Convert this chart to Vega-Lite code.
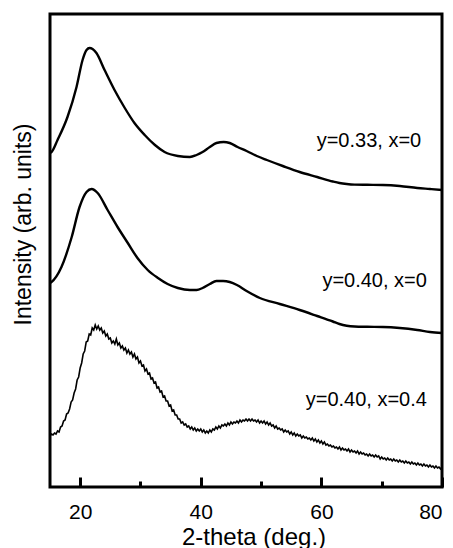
{
  "$schema": "https://vega.github.io/schema/vega-lite/v6.json",
  "width": 392,
  "height": 473,
  "autosize": {"type": "none"},
  "padding": {"left": 50, "top": 14, "right": 11, "bottom": 61},
  "background": "white",
  "config": {
    "font": "Liberation Sans",
    "view": {"stroke": "black", "strokeWidth": 3},
    "axis": {"grid": false, "domain": false, "tickColor": "black", "labelColor": "black", "titleColor": "black", "titleFont": "Liberation Sans", "labelFont": "Liberation Sans", "titleFontWeight": "normal"},
    "axisY": {"ticks": false, "labels": false}
  },
  "datasets": {
    "a": [
      {"t": 15, "i": 334}, {"t": 15.25, "i": 335}, {"t": 16.25, "i": 347}, {"t": 17.9, "i": 370},
      {"t": 19.4, "i": 400}, {"t": 20.4, "i": 427}, {"t": 21.06, "i": 437}, {"t": 21.56, "i": 439},
      {"t": 22.06, "i": 438}, {"t": 22.7, "i": 434}, {"t": 24.05, "i": 417}, {"t": 25.7, "i": 397},
      {"t": 27.4, "i": 379}, {"t": 29.0, "i": 364}, {"t": 30.7, "i": 352}, {"t": 32.4, "i": 342},
      {"t": 34.0, "i": 335}, {"t": 36.2, "i": 331}, {"t": 38.2, "i": 330}, {"t": 39.3, "i": 332},
      {"t": 40.3, "i": 335}, {"t": 41.5, "i": 340}, {"t": 42.6, "i": 344}, {"t": 43.8, "i": 345},
      {"t": 44.8, "i": 344}, {"t": 46.1, "i": 340}, {"t": 47.6, "i": 336}, {"t": 49.3, "i": 331},
      {"t": 50.96, "i": 327}, {"t": 53.6, "i": 321}, {"t": 56.4, "i": 315}, {"t": 59.3, "i": 310},
      {"t": 61.9, "i": 305.5}, {"t": 63.0, "i": 304}, {"t": 64.2, "i": 303}, {"t": 65.5, "i": 302.4},
      {"t": 67.6, "i": 302.2}, {"t": 70.2, "i": 302}, {"t": 73.0, "i": 301}, {"t": 75.9, "i": 299},
      {"t": 78.0, "i": 298}, {"t": 80.0, "i": 297}
    ],
    "b": [
      {"t": 15, "i": 204}, {"t": 15.25, "i": 205}, {"t": 16.9, "i": 220}, {"t": 18.6, "i": 250},
      {"t": 19.9, "i": 280}, {"t": 21.06, "i": 295}, {"t": 21.9, "i": 298}, {"t": 22.9, "i": 294},
      {"t": 24.55, "i": 277}, {"t": 26.2, "i": 260}, {"t": 27.9, "i": 244}, {"t": 29.5, "i": 229},
      {"t": 31.2, "i": 217}, {"t": 32.9, "i": 209}, {"t": 34.5, "i": 203}, {"t": 36.2, "i": 199},
      {"t": 38.2, "i": 197}, {"t": 39.3, "i": 197}, {"t": 40.3, "i": 199}, {"t": 41.5, "i": 203},
      {"t": 42.6, "i": 206}, {"t": 43.7, "i": 206}, {"t": 44.8, "i": 205}, {"t": 46.0, "i": 202},
      {"t": 47.6, "i": 196}, {"t": 49.8, "i": 189}, {"t": 53.1, "i": 183}, {"t": 56.4, "i": 177},
      {"t": 59.3, "i": 171}, {"t": 61.9, "i": 165.5}, {"t": 63.0, "i": 163}, {"t": 64.2, "i": 161.3},
      {"t": 65.5, "i": 160.5}, {"t": 67.6, "i": 160.2}, {"t": 70.2, "i": 160}, {"t": 73.0, "i": 159},
      {"t": 75.9, "i": 157}, {"t": 78.0, "i": 155}, {"t": 80.0, "i": 154}
    ],
    "c": [
      {"t": 15, "i": 51}, {"t": 15.25, "i": 53}, {"t": 15.5, "i": 52}, {"t": 15.75, "i": 54},
      {"t": 16, "i": 53}, {"t": 16.25, "i": 56}, {"t": 16.5, "i": 55}, {"t": 16.75, "i": 60},
      {"t": 17, "i": 61}, {"t": 17.25, "i": 66}, {"t": 17.5, "i": 67}, {"t": 17.75, "i": 73},
      {"t": 18, "i": 74}, {"t": 18.25, "i": 78}, {"t": 18.5, "i": 85}, {"t": 18.75, "i": 87},
      {"t": 19, "i": 94}, {"t": 19.25, "i": 98}, {"t": 19.5, "i": 107}, {"t": 19.75, "i": 110},
      {"t": 20, "i": 119}, {"t": 20.25, "i": 124}, {"t": 20.5, "i": 133}, {"t": 20.75, "i": 136},
      {"t": 21, "i": 145}, {"t": 21.25, "i": 146}, {"t": 21.5, "i": 153}, {"t": 21.75, "i": 152},
      {"t": 22, "i": 159}, {"t": 22.25, "i": 157}, {"t": 22.5, "i": 162}, {"t": 22.75, "i": 158},
      {"t": 23, "i": 161}, {"t": 23.25, "i": 157}, {"t": 23.5, "i": 159}, {"t": 23.75, "i": 154},
      {"t": 24, "i": 156}, {"t": 24.25, "i": 151}, {"t": 24.5, "i": 153}, {"t": 24.75, "i": 148},
      {"t": 25, "i": 149}, {"t": 25.25, "i": 144}, {"t": 25.5, "i": 146}, {"t": 25.75, "i": 143},
      {"t": 26, "i": 148}, {"t": 26.25, "i": 142}, {"t": 26.5, "i": 144}, {"t": 26.75, "i": 139},
      {"t": 27, "i": 141}, {"t": 27.25, "i": 137}, {"t": 27.5, "i": 139}, {"t": 27.75, "i": 134},
      {"t": 28, "i": 137}, {"t": 28.25, "i": 133}, {"t": 28.5, "i": 135}, {"t": 28.75, "i": 130},
      {"t": 29, "i": 133}, {"t": 29.25, "i": 128}, {"t": 29.5, "i": 130}, {"t": 29.75, "i": 124},
      {"t": 30, "i": 126}, {"t": 30.25, "i": 121}, {"t": 30.5, "i": 122}, {"t": 30.75, "i": 116},
      {"t": 31, "i": 118}, {"t": 31.25, "i": 113}, {"t": 31.5, "i": 114}, {"t": 31.75, "i": 108},
      {"t": 32, "i": 109}, {"t": 32.25, "i": 104}, {"t": 32.5, "i": 105}, {"t": 32.75, "i": 99},
      {"t": 33, "i": 100}, {"t": 33.25, "i": 95}, {"t": 33.5, "i": 96}, {"t": 33.75, "i": 90},
      {"t": 34, "i": 91}, {"t": 34.25, "i": 86}, {"t": 34.5, "i": 86}, {"t": 34.75, "i": 81},
      {"t": 35, "i": 82}, {"t": 35.25, "i": 76}, {"t": 35.5, "i": 77}, {"t": 35.75, "i": 72},
      {"t": 36, "i": 72}, {"t": 36.25, "i": 68}, {"t": 36.5, "i": 68}, {"t": 36.75, "i": 64},
      {"t": 37, "i": 65}, {"t": 37.25, "i": 62}, {"t": 37.5, "i": 63}, {"t": 37.75, "i": 60},
      {"t": 38, "i": 61}, {"t": 38.25, "i": 58}, {"t": 38.5, "i": 60}, {"t": 38.75, "i": 57},
      {"t": 39, "i": 59}, {"t": 39.25, "i": 56}, {"t": 39.5, "i": 58}, {"t": 39.75, "i": 56},
      {"t": 40, "i": 58}, {"t": 40.25, "i": 55}, {"t": 40.5, "i": 57}, {"t": 40.75, "i": 54},
      {"t": 41, "i": 56}, {"t": 41.25, "i": 54}, {"t": 41.5, "i": 57}, {"t": 41.75, "i": 55},
      {"t": 42, "i": 58}, {"t": 42.25, "i": 57}, {"t": 42.5, "i": 60}, {"t": 42.75, "i": 58},
      {"t": 43, "i": 61}, {"t": 43.25, "i": 59}, {"t": 43.5, "i": 62}, {"t": 43.75, "i": 61},
      {"t": 44, "i": 63}, {"t": 44.25, "i": 61}, {"t": 44.5, "i": 64}, {"t": 44.75, "i": 62},
      {"t": 45, "i": 65}, {"t": 45.25, "i": 63}, {"t": 45.5, "i": 65}, {"t": 45.75, "i": 64},
      {"t": 46, "i": 66}, {"t": 46.25, "i": 64}, {"t": 46.5, "i": 67}, {"t": 46.75, "i": 65},
      {"t": 47, "i": 67}, {"t": 47.25, "i": 66}, {"t": 47.5, "i": 68}, {"t": 47.75, "i": 66},
      {"t": 48, "i": 68}, {"t": 48.25, "i": 66}, {"t": 48.5, "i": 68}, {"t": 48.75, "i": 66},
      {"t": 49, "i": 67}, {"t": 49.25, "i": 65}, {"t": 49.5, "i": 67}, {"t": 49.75, "i": 64},
      {"t": 50, "i": 66}, {"t": 50.25, "i": 64}, {"t": 50.5, "i": 66}, {"t": 50.75, "i": 63},
      {"t": 51, "i": 65}, {"t": 51.25, "i": 62}, {"t": 51.5, "i": 64}, {"t": 51.75, "i": 61},
      {"t": 52, "i": 62}, {"t": 52.25, "i": 59}, {"t": 52.5, "i": 61}, {"t": 52.75, "i": 58},
      {"t": 53, "i": 59}, {"t": 53.25, "i": 57}, {"t": 53.5, "i": 58}, {"t": 53.75, "i": 55},
      {"t": 54, "i": 57}, {"t": 54.25, "i": 55}, {"t": 54.5, "i": 56}, {"t": 54.75, "i": 53},
      {"t": 55, "i": 55}, {"t": 55.25, "i": 52}, {"t": 55.5, "i": 54}, {"t": 55.75, "i": 51},
      {"t": 56, "i": 53}, {"t": 56.25, "i": 51}, {"t": 56.5, "i": 52}, {"t": 56.75, "i": 49},
      {"t": 57, "i": 51}, {"t": 57.25, "i": 49}, {"t": 57.5, "i": 50}, {"t": 57.75, "i": 48},
      {"t": 58, "i": 49}, {"t": 58.25, "i": 47}, {"t": 58.5, "i": 49}, {"t": 58.75, "i": 46},
      {"t": 59, "i": 48}, {"t": 59.25, "i": 45}, {"t": 59.5, "i": 47}, {"t": 59.75, "i": 44},
      {"t": 60, "i": 46}, {"t": 60.25, "i": 43}, {"t": 60.5, "i": 45}, {"t": 60.75, "i": 42},
      {"t": 61, "i": 43}, {"t": 61.25, "i": 41}, {"t": 61.5, "i": 42}, {"t": 61.75, "i": 40},
      {"t": 62, "i": 41}, {"t": 62.25, "i": 39}, {"t": 62.5, "i": 40}, {"t": 62.75, "i": 38},
      {"t": 63, "i": 40}, {"t": 63.25, "i": 37}, {"t": 63.5, "i": 39}, {"t": 63.75, "i": 37},
      {"t": 64, "i": 38}, {"t": 64.25, "i": 36}, {"t": 64.5, "i": 38}, {"t": 64.75, "i": 35},
      {"t": 65, "i": 37}, {"t": 65.25, "i": 35}, {"t": 65.5, "i": 36}, {"t": 65.75, "i": 34},
      {"t": 66, "i": 36}, {"t": 66.25, "i": 33}, {"t": 66.5, "i": 35}, {"t": 66.75, "i": 33},
      {"t": 67, "i": 34}, {"t": 67.25, "i": 32}, {"t": 67.5, "i": 33}, {"t": 67.75, "i": 31},
      {"t": 68, "i": 33}, {"t": 68.25, "i": 31}, {"t": 68.5, "i": 32}, {"t": 68.75, "i": 30},
      {"t": 69, "i": 32}, {"t": 69.25, "i": 30}, {"t": 69.5, "i": 31}, {"t": 69.75, "i": 28},
      {"t": 70, "i": 30}, {"t": 70.25, "i": 28}, {"t": 70.5, "i": 29}, {"t": 70.75, "i": 27},
      {"t": 71, "i": 29}, {"t": 71.25, "i": 27}, {"t": 71.5, "i": 28}, {"t": 71.75, "i": 26},
      {"t": 72, "i": 28}, {"t": 72.25, "i": 26}, {"t": 72.5, "i": 27}, {"t": 72.75, "i": 25},
      {"t": 73, "i": 27}, {"t": 73.25, "i": 25}, {"t": 73.5, "i": 26}, {"t": 73.75, "i": 24},
      {"t": 74, "i": 26}, {"t": 74.25, "i": 24}, {"t": 74.5, "i": 25}, {"t": 74.75, "i": 23},
      {"t": 75, "i": 25}, {"t": 75.25, "i": 23}, {"t": 75.5, "i": 24}, {"t": 75.75, "i": 22},
      {"t": 76, "i": 24}, {"t": 76.25, "i": 22}, {"t": 76.5, "i": 23}, {"t": 76.75, "i": 21},
      {"t": 77, "i": 23}, {"t": 77.25, "i": 21}, {"t": 77.5, "i": 22}, {"t": 77.75, "i": 20},
      {"t": 78, "i": 22}, {"t": 78.25, "i": 20}, {"t": 78.5, "i": 21}, {"t": 78.75, "i": 19},
      {"t": 79, "i": 21}, {"t": 79.25, "i": 19}, {"t": 79.5, "i": 20}, {"t": 79.75, "i": 18},
      {"t": 80, "i": 20}
    ],
    "labels": [
      {"t": 76.55, "i": 340, "label": "y=0.33, x=0"},
      {"t": 77.5, "i": 200, "label": "y=0.40, x=0"},
      {"t": 77.5, "i": 81, "label": "y=0.40, x=0.4"}
    ]
  },
  "resolve": {"axis": {"x": "independent"}},
  "layer": [
    {
      "data": {"name": "a"},
      "mark": {"type": "line", "color": "black", "strokeWidth": 2.4, "interpolate": "monotone"},
      "encoding": {
        "x": {"field": "t", "type": "quantitative", "scale": {"domain": [15, 80], "nice": false, "zero": false},
          "axis": {"values": [20, 40, 60, 80], "tickSize": -10, "tickWidth": 3, "labelFontSize": 21, "labelPadding": 24,
            "title": "2-theta (deg.)", "titleFontSize": 24, "titleX": 203.5, "titleY": 57, "titleAlign": "center", "titleBaseline": "alphabetic", "orient": "bottom"}},
        "y": {"field": "i", "type": "quantitative", "scale": {"domain": [0, 473], "nice": false, "zero": false},
          "axis": {"title": "Intensity (arb. units)", "titleFontSize": 23, "titleX": -26.5, "titleY": 210, "titleAngle": -90, "titleAlign": "center", "titleBaseline": "middle"}}
      }
    },
    {
      "data": {"name": "b"},
      "mark": {"type": "line", "color": "black", "strokeWidth": 2.4, "interpolate": "monotone"},
      "encoding": {
        "x": {"field": "t", "type": "quantitative", "axis": null},
        "y": {"field": "i", "type": "quantitative", "axis": {"title": "Intensity (arb. units)"}}
      }
    },
    {
      "data": {"name": "c"},
      "mark": {"type": "line", "color": "black", "strokeWidth": 1.6},
      "encoding": {
        "x": {"field": "t", "type": "quantitative", "axis": null},
        "y": {"field": "i", "type": "quantitative", "axis": {"title": "Intensity (arb. units)"}}
      }
    },
    {
      "data": {"name": "labels"},
      "mark": {"type": "text", "color": "black", "fontSize": 20, "align": "right", "baseline": "alphabetic", "font": "Liberation Sans"},
      "encoding": {
        "x": {"field": "t", "type": "quantitative",
          "axis": {"values": [30, 50, 70], "labels": false, "title": null, "tickSize": -6, "tickWidth": 3, "orient": "bottom"}},
        "y": {"field": "i", "type": "quantitative", "axis": {"title": "Intensity (arb. units)"}},
        "text": {"field": "label"}
      }
    }
  ]
}
